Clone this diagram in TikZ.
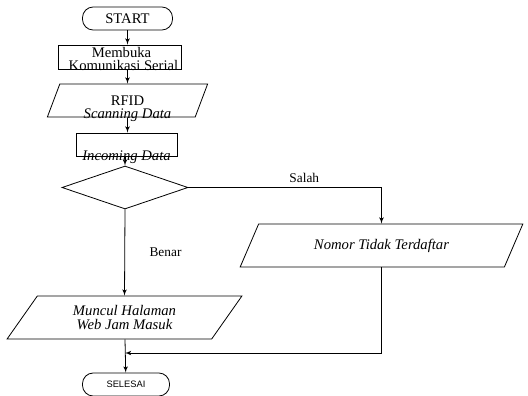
\documentclass[tikz,border=0pt]{standalone}
\usepackage{fontspec}
\setmainfont{Liberation Serif}
\newfontfamily\selesaifont{Liberation Sans}
\usetikzlibrary{shapes,arrows,positioning}

% text lowered inside a box of fixed height
\newcommand{\droptext}[2]{\raisebox{-#1}[4pt][4pt]{\begin{tabular}{@{}c@{}}#2\end{tabular}}}

\begin{document}
\begin{tikzpicture}[x=0.75pt,y=-0.75pt,line width=0.6pt,
    font=\fontsize{11pt}{10pt}\selectfont]
\tikzstyle{terminal} = [rectangle, draw, rounded corners=8pt,
    minimum width=67.5pt, minimum height=17.25pt, inner sep=0pt]
\tikzstyle{process} = [rectangle, draw, inner sep=0pt]
\tikzstyle{io} = [trapezium, trapezium left angle=53, trapezium right angle=127,
    trapezium stretches=true, draw, inner sep=0pt, align=center]
\tikzstyle{decision} = [diamond, draw, inner sep=0pt,
    minimum width=94.5pt, minimum height=32.25pt]
\tikzstyle{line} = [draw, -latex']
\tikzstyle{answer} = [font=\fontsize{10pt}{12pt}\selectfont]

\useasboundingbox (0,0) rectangle (528,396);

\node [terminal] (start) at (127.5,18.5) {START};
\node [process, minimum width=92.25pt, minimum height=18pt] (open) at (119.5,57)
    {\droptext{5.5pt}{\hspace{3pt}Membuka\\[-0.5pt]\hspace{6pt}Komunikasi Serial}};
\node [io, minimum width=120.75pt, minimum height=24.75pt] (rfid) at (127.5,100.5)
    {\droptext{9pt}{RFID\\[-0.5pt]\textit{Scanning Data}}};
\node [process, minimum width=75.75pt, minimum height=17.25pt] (incoming) at (126.5,144.5)
    {\droptext{12.5pt}{\textit{Incoming Data}}};
\node [decision] (check) at (125,187.5) {};
\node [io, minimum width=212.25pt, minimum height=32.25pt,
    font=\fontsize{11pt}{10pt}\selectfont\itshape] (fail) at (381.5,245.5) {Nomor Tidak Terdaftar};
\node [io, minimum width=176.25pt, minimum height=32.25pt,
    font=\fontsize{11pt}{10pt}\selectfont\itshape] (ok) at (124.5,317.5) {Muncul Halaman\\Web Jam Masuk};
\node [terminal, minimum width=65.25pt, font=\selesaifont\fontsize{7pt}{8pt}\selectfont]
    (finish) at (126,384.5) {SELESAI};
\coordinate (join) at (125,353);

\path [line] (start) -- (start |- open.north);
\path [line] (start |- open.south) -- (start |- rfid.north);
\path [line] (rfid) -- (rfid |- incoming.north);
\path [line] (check |- incoming.south) -- (check);

\path [line] (check.east) -| node [answer, pos=0.3, above] {Salah} (fail.north);
\path [line] (check.south) -- node [answer, right=15pt] {Benar} (ok.north);

\path [line] (ok.south -| check) -- (finish);
\path [line] (fail.south) |- (join);

\end{tikzpicture}
\end{document}
